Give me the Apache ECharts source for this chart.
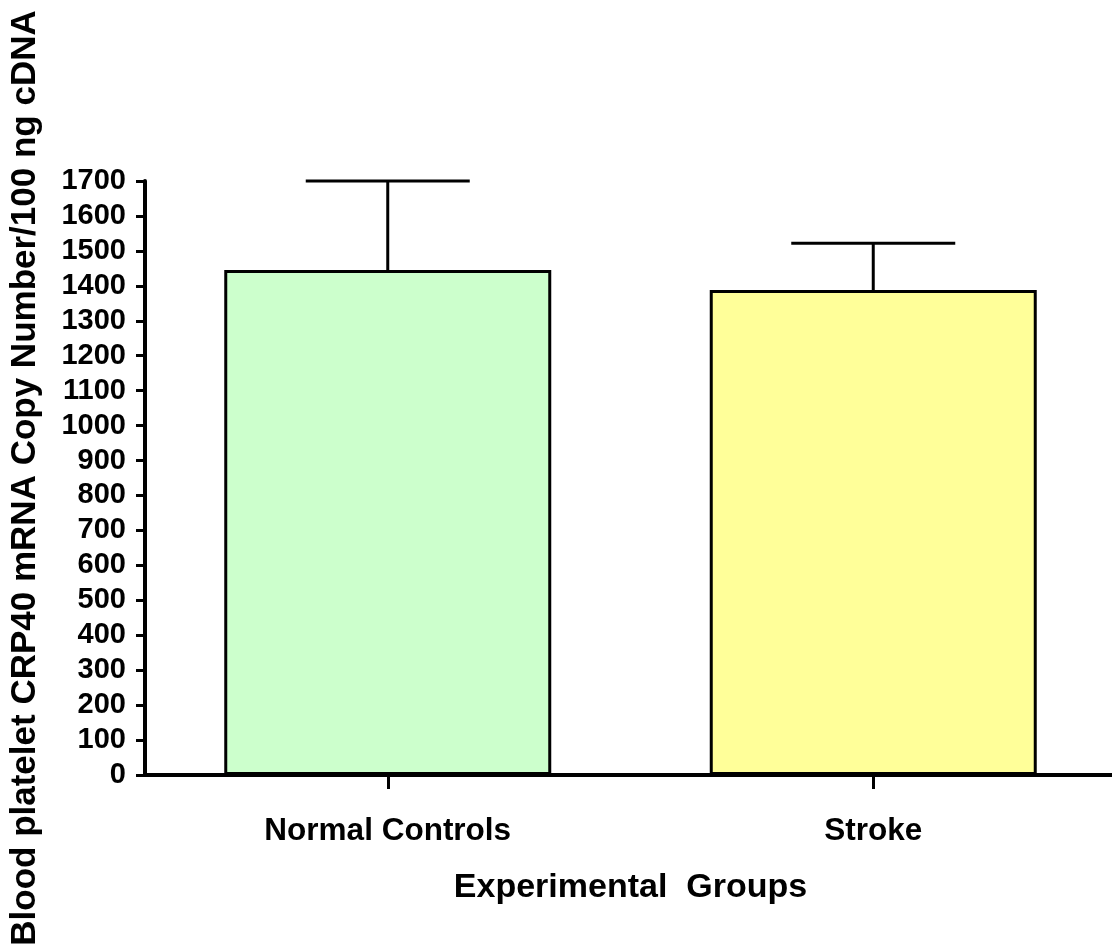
<!DOCTYPE html>
<html>
<head>
<meta charset="utf-8">
<script src="https://cdn.jsdelivr.net/npm/echarts@6/dist/echarts.min.js"></script>
<style>
html,body{margin:0;padding:0;background:#fff;overflow:hidden;}
#chart{width:1112px;height:945px;}
</style>
</head>
<body>
<div id="chart"></div>
<script>
const categories = ['Normal Controls', 'Stroke'];
const means = [1445, 1388];
const errorUpper = [1700, 1522];
const barColors = ['#CCFFCC', '#FFFF99'];
const yTicks = [0, 100, 200, 300, 400, 500, 600, 700, 800, 900, 1000, 1100, 1200, 1300, 1400, 1500, 1600, 1700];

const chart = echarts.init(document.getElementById('chart'), null, {renderer: 'canvas'});
const fontFam = '"Liberation Sans", Arial, sans-serif';

chart.setOption({
  animation: false,
  backgroundColor: '#ffffff',
  grid: {left: 145, right: -4, top: 181, bottom: 170, containLabel: false, outerBoundsMode: 'none'},
  xAxis: {
    type: 'category',
    data: categories,
    boundaryGap: true,
    name: 'Experimental  Groups',
    nameLocation: 'middle',
    nameGap: 96,
    nameTextStyle: {fontFamily: fontFam, fontWeight: 'bold', fontSize: 34, color: '#000'},
    axisLine: {show: true, onZero: false, lineStyle: {color: '#000', width: 4}},
    axisTick: {show: true, alignWithLabel: true, length: 14, lineStyle: {color: '#000', width: 3}},
    axisLabel: {fontFamily: fontFam, fontWeight: 'bold', fontSize: 31.5, color: '#000', margin: 40},
    splitLine: {show: false}
  },
  yAxis: {
    type: 'value',
    min: 0,
    max: 1700,
    interval: 100,
    name: 'Blood platelet CRP40 mRNA Copy Number/100 ng cDNA',
    nameLocation: 'middle',
    nameRotate: 90,
    nameGap: 102,
    nameTextStyle: {fontFamily: fontFam, fontWeight: 'bold', fontSize: 35, color: '#000'},
    axisLine: {show: true, lineStyle: {color: '#000', width: 4}},
    axisTick: {show: true, inside: false, length: 9, lineStyle: {color: '#000', width: 3}},
    axisLabel: {
      fontFamily: fontFam, fontWeight: 'bold', fontSize: 29, color: '#000', margin: 19,
      formatter: v => yTicks.includes(v) ? String(v) : ''
    },
    splitLine: {show: false}
  },
  series: [
    {
      type: 'bar',
      data: means.map((v, i) => ({value: v, itemStyle: {color: barColors[i]}})),
      barWidth: 327,
      itemStyle: {borderColor: '#000', borderWidth: 3},
      z: 2
    },
    {
      type: 'custom',
      z: 3,
      data: categories.map((c, i) => [i, means[i], errorUpper[i]]),
      renderItem: function (params, api) {
        const x = api.coord([api.value(0), 0])[0];
        const yMean = api.coord([api.value(0), api.value(1)])[1];
        const yTop = api.coord([api.value(0), api.value(2)])[1];
        const halfCap = 82;
        const style = {stroke: '#000', lineWidth: 3};
        return {
          type: 'group',
          children: [
            {type: 'line', shape: {x1: x, y1: yMean, x2: x, y2: yTop}, style: style},
            {type: 'line', shape: {x1: x - halfCap, y1: yTop, x2: x + halfCap, y2: yTop}, style: style}
          ]
        };
      }
    }
  ]
});
</script>
</body>
</html>
